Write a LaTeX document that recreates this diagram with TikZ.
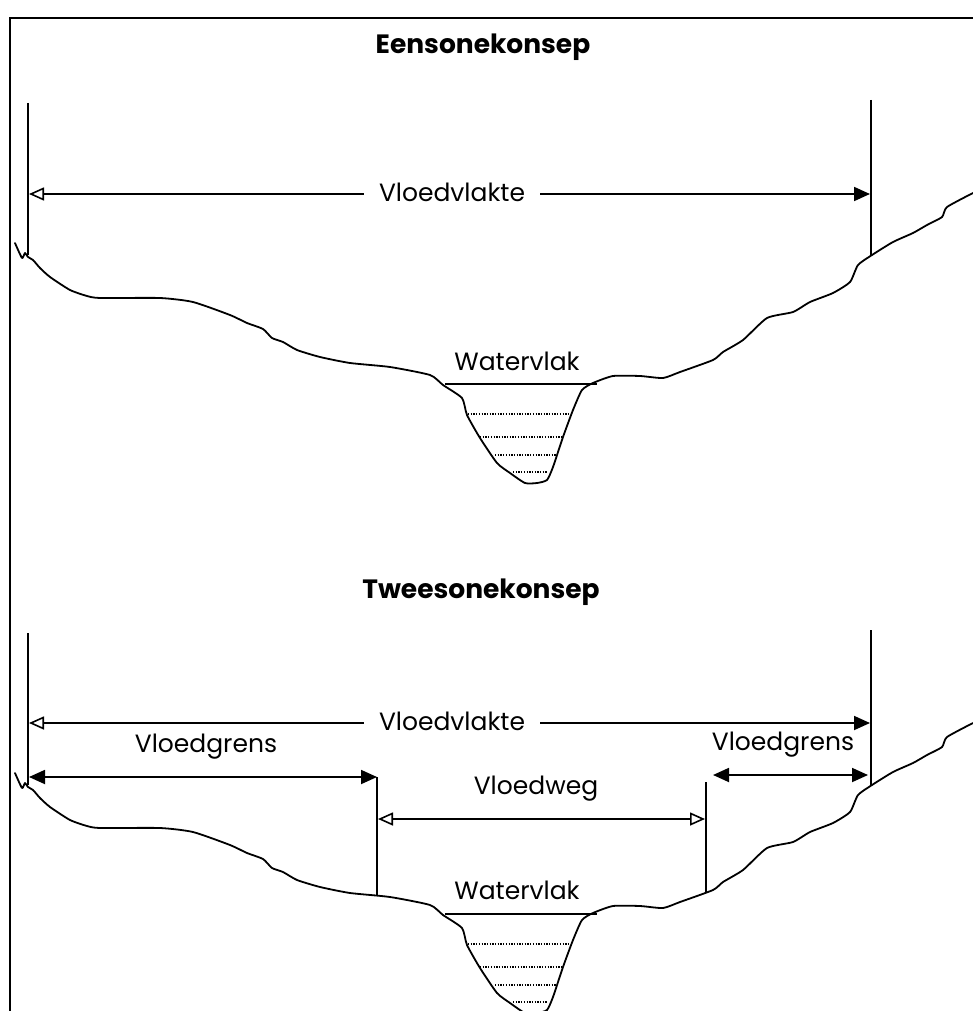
\documentclass[tikz,border=0pt]{standalone}
\usepackage{fontspec}
\setmainfont{Poppins}
\usetikzlibrary{arrows.meta}
\tikzset{
  ln/.style={line width=1.8pt},
  ground/.style={line width=1.8pt, line join=round, line cap=round},
  lbl/.style={font=\fontsize{25}{30}\selectfont, inner sep=1pt},
  ttl/.style={font=\fontsize{26.5}{30}\selectfont\bfseries, inner sep=1pt},
  otip/.style={-{Triangle[open,length=15pt,width=13pt,line width=1.6pt]}},
  ftip/.style={-{Triangle[length=16pt,width=14pt]}},
  bff/.style={{Triangle[length=16pt,width=14pt]}-{Triangle[length=16pt,width=14pt]}},
  boo/.style={{Triangle[open,length=15pt,width=13pt,line width=1.6pt]}-{Triangle[open,length=15pt,width=13pt,line width=1.6pt]}},
  wl/.style={line width=1.2pt, dash pattern=on 1.3pt off 1.4pt}
}
\newcommand\terrain{%
  \draw[ground] plot[smooth,tension=0.35] coordinates {(15,243) (22,258) (25,253) (28,257) (33,260) (40,268) (50,277) (70,290) (87,296) (100,298) (160,298) (193,302) (230,315) (247,323) (263,329) (272,338) (283,342) (297,350) (320,357) (350,363) (390,367) (430,375) (443,385) (462,398) (467,415) (480,438) (497,463) (510,473) (525,483) (537,483) (547,480) (553,467) (563,437) (573,410) (582,390) (593,383) (613,376) (640,376) (663,378) (680,372) (713,360) (723,352) (743,340) (767,318) (793,312) (810,302) (833,293) (850,282) (858,265) (872,255) (893,242) (913,233) (927,225) (942,217) (947,207) (973,193)};
  \draw[ln] (445,384) -- (597,384);
  \draw[wl] (468,414) -- (570,414);
  \draw[wl] (480,437) -- (562,437);
  \draw[wl] (495,455) -- (557,455);
  \draw[wl] (513,472) -- (547,472);
}
\begin{document}
\begin{tikzpicture}[x=1pt,y=-1pt]
\useasboundingbox (0,0) rectangle (973,1011);
\fill[white] (0,0) rectangle (973,1011);
\clip (0,0) rectangle (973,1011);
% frame
\draw[ln] (10,1015) -- (10,18) -- (975,18);

% ---------- panel 1 ----------
\node[ttl] (t1) at (483,47) {Eensonekonsep};
\terrain
\coordinate (l1t) at (28,103); \coordinate (l1b) at (28,255);
\coordinate (r1t) at (871,100); \coordinate (r1b) at (871,255);
\draw[ln] (l1t) -- (l1b);
\draw[ln] (r1t) -- (r1b);
\node[lbl] (vv1) at (452,192) {Vloedvlakte};
\coordinate (a1l) at (29,194); \coordinate (a1r) at (870,194);
\draw[ln,otip] (vv1.west |- a1l) ++(-14,0) -- (a1l);
\draw[ln,ftip] (vv1.east |- a1r) ++(14,0) -- (a1r);
\node[lbl] (wv1) at (517,361) {Watervlak};

% ---------- panel 2 ----------
\node[ttl] (t2) at (481,592) {Tweesonekonsep};
\begin{scope}[yshift=-530pt]
\terrain
\end{scope}
\coordinate (l2t) at (28,633); \coordinate (l2b) at (28,785);
\coordinate (r2t) at (871,630); \coordinate (r2b) at (871,785);
\draw[ln] (l2t) -- (l2b);
\draw[ln] (r2t) -- (r2b);
\node[lbl] (vv2) at (452,721) {Vloedvlakte};
\coordinate (a2l) at (29,723); \coordinate (a2r) at (870,723);
\draw[ln,otip] (vv2.west |- a2l) ++(-14,0) -- (a2l);
\draw[ln,ftip] (vv2.east |- a2r) ++(14,0) -- (a2r);
% middle verticals
\coordinate (m1t) at (377,777); \coordinate (m1b) at (377,896);
\coordinate (m2t) at (706,782); \coordinate (m2b) at (706,892);
\draw[line width=1.5pt] (m1t) -- (m1b);
\draw[line width=1.5pt] (m2t) -- (m2b);
% Vloedgrens left
\node[lbl] (vg1) at (206,747) {Vloedgrens};
\coordinate (g1l) at (29,777); \coordinate (g1r) at (377,777);
\draw[ln,bff] (g1l) -- (g1r);
% Vloedweg
\node[lbl] (vw) at (536,789) {Vloedweg};
\coordinate (wl) at (378,819); \coordinate (wr) at (705,819);
\draw[ln,boo] (wl) -- (wr);
% Vloedgrens right
\node[lbl] (vg2) at (783,745) {Vloedgrens};
\coordinate (g2l) at (713,775); \coordinate (g2r) at (868,775);
\draw[ln,bff] (g2l) -- (g2r);
\node[lbl] (wv2) at (517,890) {Watervlak};
\end{tikzpicture}
\end{document}
